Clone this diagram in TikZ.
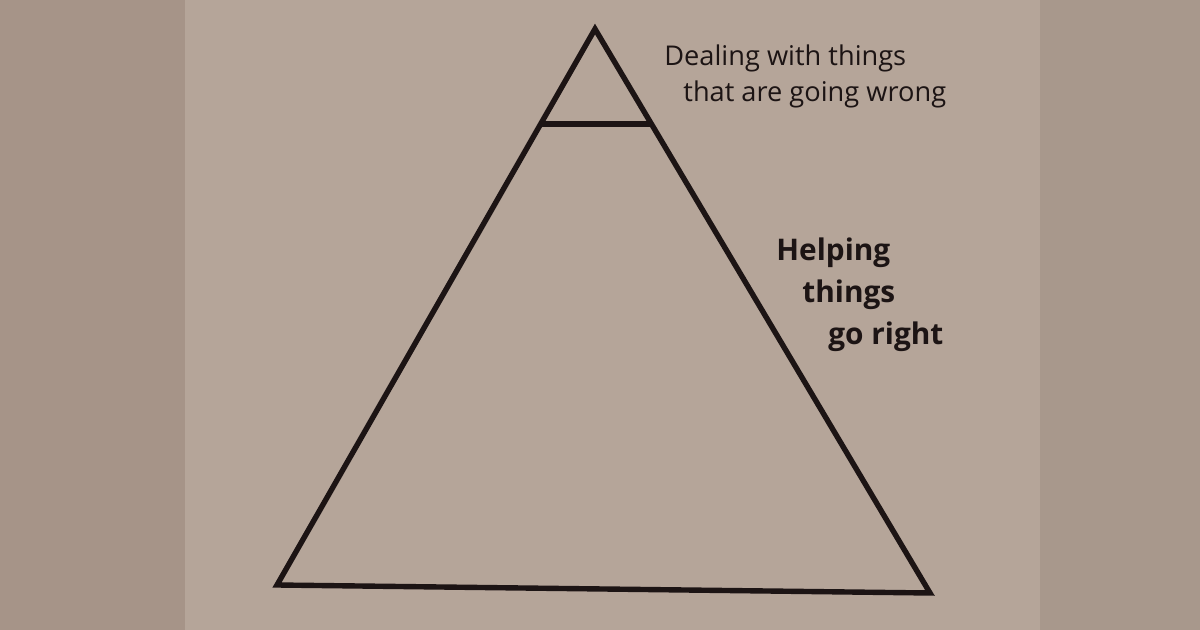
\documentclass[tikz,border=0pt]{standalone}
\usepackage{fontspec}
\setmainfont{Open Sans}
\definecolor{edgeL}{RGB}{166,148,136}
\definecolor{edgeR}{RGB}{168,152,140}
\definecolor{paper}{RGB}{181,165,153}
\definecolor{ink}{RGB}{28,20,20}
\begin{document}
\begin{tikzpicture}[x=0.5pt,y=-0.5pt,
  pyr/.style={draw=ink,line width=2.7pt,line join=miter},
  small/.style={anchor=base west,inner sep=0pt,text=ink,font=\fontsize{13.6pt}{15pt}\selectfont},
  big/.style={anchor=base west,inner sep=0pt,text=ink,font=\bfseries\fontsize{14.9pt}{17pt}\selectfont}]
\fill[edgeL] (0,0) rectangle (1200,630);
\fill[paper] (185,0) rectangle (1040,630);
\fill[edgeR] (1040,0) rectangle (1200,630);
\coordinate (A) at (595,29);
\coordinate (B) at (277,585);
\coordinate (C) at (930,593);
\coordinate (L) at (541,124);
\coordinate (R) at (650,124);
\draw[pyr] (A) -- (B) -- (C) -- cycle;
\draw[pyr] (L) -- (R);
\node[small] (t1) at (664,66) {Dealing with things};
\node[small] (t2) at (683,102) {that are going wrong};
\node[big] (h1) at (776,261) {Helping};
\node[big] (h2) at (802,303) {things};
\node[big] (h3) at (828,345) {go right};
\end{tikzpicture}
\end{document}
